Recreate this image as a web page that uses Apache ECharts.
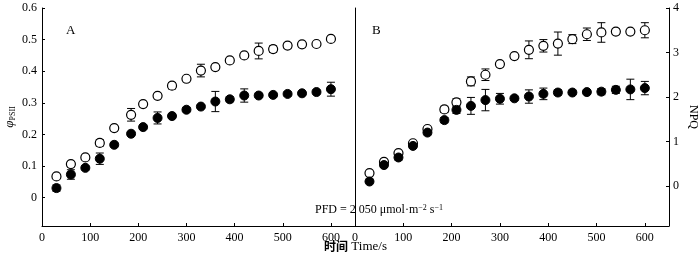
<!DOCTYPE html>
<html>
<head>
<meta charset="utf-8">
<script src="https://cdn.jsdelivr.net/npm/echarts@6/dist/echarts.min.js"></script>
<style>
  html, body { margin: 0; padding: 0; background: #fff; }
  #chart { width: 700px; height: 260px; }
</style>
</head>
<body>
<div id="chart"></div>
<script>
// 时间 (s)
const times = [30, 60, 90, 120, 150, 185, 210, 240, 270, 300, 330, 360, 390, 420, 450, 480, 510, 540, 570, 600]

// A: φPSII
const phiOpen = [0.067, 0.106, 0.127, 0.173, 0.22, 0.262, 0.296, 0.322, 0.354, 0.376, 0.402, 0.413, 0.434, 0.45, 0.464, 0.47, 0.481, 0.485, 0.486, 0.502]
const phiOpenErr = [0.005, 0.008, 0.005, 0.01, 0.006, 0.02, 0.005, 0.005, 0.01, 0.005, 0.02, 0.005, 0.005, 0.005, 0.025, 0.01, 0.008, 0.005, 0.005, 0.005]
const phiFilled = [0.03, 0.073, 0.094, 0.123, 0.167, 0.202, 0.223, 0.252, 0.258, 0.278, 0.288, 0.304, 0.311, 0.323, 0.323, 0.325, 0.328, 0.33, 0.334, 0.343]
const phiFilledErr = [0.01, 0.015, 0.006, 0.018, 0.006, 0.005, 0.006, 0.019, 0.006, 0.006, 0.006, 0.032, 0.008, 0.021, 0.006, 0.006, 0.006, 0.006, 0.006, 0.022]

// B: NPQ
const npqOpen = [0.29, 0.54, 0.74, 0.96, 1.28, 1.72, 1.88, 2.35, 2.5, 2.74, 2.92, 3.06, 3.15, 3.2, 3.3, 3.41, 3.45, 3.47, 3.47, 3.5]
const npqOpenErr = [0.03, 0.03, 0.03, 0.03, 0.03, 0.07, 0.08, 0.1, 0.13, 0.03, 0.03, 0.2, 0.14, 0.26, 0.1, 0.14, 0.22, 0.06, 0.03, 0.17]
const npqFilled = [0.1, 0.47, 0.64, 0.9, 1.2, 1.48, 1.71, 1.8, 1.93, 1.96, 1.97, 2.01, 2.07, 2.1, 2.1, 2.11, 2.12, 2.16, 2.17, 2.2]
const npqFilledErr = [0.03, 0.05, 0.06, 0.05, 0.05, 0.06, 0.08, 0.19, 0.24, 0.12, 0.04, 0.15, 0.13, 0.06, 0.04, 0.04, 0.07, 0.08, 0.23, 0.15]

// tick labels
const xTicks = [0, 100, 200, 300, 400, 500, 600]
const phiTicks = [0, 0.1, 0.2, 0.3, 0.4, 0.5, 0.6]
const npqTicks = [0, 1, 2, 3, 4]

const FONT = 'Liberation Serif'

const chart = echarts.init(document.getElementById('chart'))

function pts (vals, errs) {
  return times.map((t, i) => [t, vals[i], errs[i]])
}

// 误差线
function errItem (params, api) {
  const x = api.value(0)
  const y = api.value(1)
  const e = api.value(2)
  const hi = api.coord([x, y + e])
  const lo = api.coord([x, y - e])
  const hw = 4
  const st = { stroke: '#000', lineWidth: 1 }
  return {
    type: 'group',
    children: [
      { type: 'line', shape: { x1: hi[0], y1: hi[1], x2: lo[0], y2: lo[1] }, style: st },
      { type: 'line', shape: { x1: hi[0] - hw, y1: hi[1], x2: hi[0] + hw, y2: hi[1] }, style: st },
      { type: 'line', shape: { x1: lo[0] - hw, y1: lo[1], x2: lo[0] + hw, y2: lo[1] }, style: st }
    ]
  }
}

const axisLine = { show: true, lineStyle: { color: '#000', width: 1 } }
const label = { color: '#000', fontFamily: FONT, fontSize: 12 }

function xAx (gi) {
  return {
    gridIndex: gi,
    type: 'value',
    min: 0,
    max: 650,
    axisLine: { ...axisLine, onZero: false },
    axisTick: { show: true, inside: true, length: 3, lineStyle: { color: '#000' }, customValues: xTicks },
    axisLabel: { ...label, margin: 6, customValues: xTicks },
    splitLine: { show: false }
  }
}

function scatter (name, xi, yi, data, open) {
  return {
    name: name,
    type: 'scatter',
    xAxisIndex: xi,
    yAxisIndex: yi,
    data: data.map(d => [d[0], d[1]]),
    symbol: 'circle',
    symbolSize: 9,
    z: 3,
    itemStyle: open
      ? { color: '#fff', borderColor: '#000', borderWidth: 1.2, opacity: 1 }
      : { color: '#000', borderColor: '#000', borderWidth: 1, opacity: 1 }
  }
}

function errs (xi, yi, data) {
  return {
    type: 'custom',
    xAxisIndex: xi,
    yAxisIndex: yi,
    renderItem: errItem,
    data: data,
    z: 2,
    silent: true
  }
}

const dPhiO = pts(phiOpen, phiOpenErr)
const dPhiF = pts(phiFilled, phiFilledErr)
const dNpqO = pts(npqOpen, npqOpenErr)
const dNpqF = pts(npqFilled, npqFilledErr)

const option = {
  animation: false,
  backgroundColor: '#fff',
  grid: [
    { left: 42, right: 345, top: 8, bottom: 34 },
    { left: 355, right: 31, top: 8, bottom: 34 }
  ],
  xAxis: [xAx(0), xAx(1)],
  yAxis: [
    {
      gridIndex: 0,
      type: 'value',
      min: -0.09,
      max: 0.6,
      axisLine: axisLine,
      axisTick: { show: true, inside: true, length: 3, lineStyle: { color: '#000' }, customValues: phiTicks },
      axisLabel: { ...label, margin: 5, customValues: phiTicks },
      splitLine: { show: false },
      name: '{i|φ}{s|PSII}',
      nameLocation: 'middle',
      nameGap: 25,
      nameRotate: 90,
      nameTextStyle: {
        rich: {
          i: { fontFamily: FONT, fontStyle: 'italic', fontSize: 13, color: '#000' },
          s: { fontFamily: FONT, fontSize: 8, color: '#000', verticalAlign: 'bottom', padding: [6, 0, 0, 0] }
        }
      }
    },
    {
      gridIndex: 1,
      type: 'value',
      position: 'left',
      min: -0.9,
      max: 4,
      axisLine: axisLine,
      axisTick: { show: false },
      axisLabel: { show: false },
      splitLine: { show: false }
    },
    {
      gridIndex: 1,
      type: 'value',
      position: 'right',
      min: -0.9,
      max: 4,
      axisLine: axisLine,
      axisTick: { show: true, inside: true, length: 3, lineStyle: { color: '#000' }, customValues: npqTicks },
      axisLabel: { ...label, margin: 4, customValues: npqTicks },
      splitLine: { show: false },
      name: 'NPQ',
      nameLocation: 'middle',
      nameGap: 18,
      nameRotate: -90,
      nameTextStyle: { fontFamily: FONT, fontSize: 12, color: '#000' }
    }
  ],
  graphic: [
    { type: 'text', left: 66, top: 24, style: { text: 'A', font: '13px "Liberation Serif"', fill: '#000' } },
    { type: 'text', left: 372, top: 24, style: { text: 'B', font: '13px "Liberation Serif"', fill: '#000' } },
    {
      type: 'text',
      left: 315,
      top: 204,
      z: 10,
      style: {
        text: '{t|PFD = 2 050 μmol·m}{p|−2}{t| s}{p|−1}',
        rich: {
          t: { fontFamily: FONT, fontSize: 12, fill: '#000', color: '#000' },
          p: { fontFamily: FONT, fontSize: 8, color: '#000', verticalAlign: 'top' }
        }
      }
    },
    {
      type: 'text',
      left: 324,
      top: 240,
      style: {
        text: '{b|时间} {t|Time/s}',
        rich: {
          b: { fontFamily: 'Noto Sans CJK SC', fontWeight: 'bold', fontSize: 12, color: '#000' },
          t: { fontFamily: FONT, fontSize: 13, color: '#000' }
        }
      }
    }
  ],
  series: [
    errs(0, 0, dPhiO),
    errs(0, 0, dPhiF),
    scatter('open A', 0, 0, dPhiO, true),
    scatter('filled A', 0, 0, dPhiF, false),
    errs(1, 2, dNpqO),
    errs(1, 2, dNpqF),
    scatter('open B', 1, 2, dNpqO, true),
    scatter('filled B', 1, 2, dNpqF, false)
  ]
}

chart.setOption(option)
</script>
</body>
</html>
